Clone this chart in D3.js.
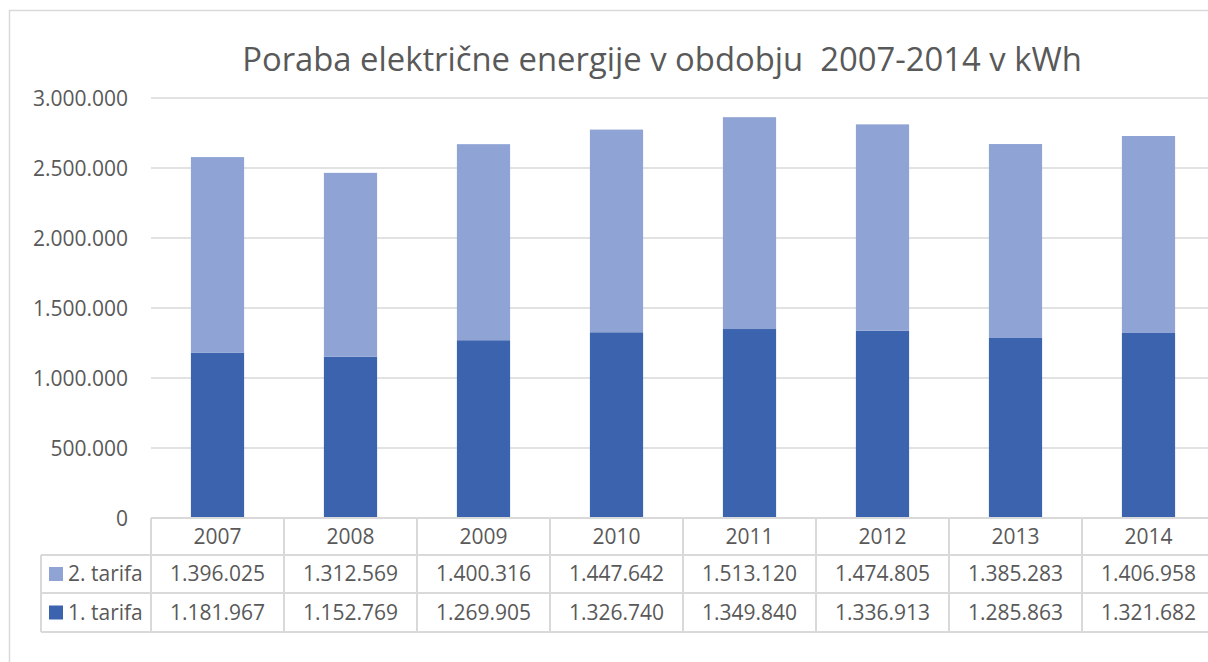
<head>
  <script src="https://d3js.org/d3.v7.min.js"></script>
  <style>
    body { margin: 0px; background: #fff; }
    text { font-family: "Open Sans", "Liberation Sans", sans-serif; fill: #595959; }
    .grid line { stroke: #d9d9d9; stroke-width: 1.5px; }
    .tbl line { stroke: #d9d9d9; stroke-width: 2px; }
  </style>
</head>

<body>
  <svg id="chart" width="1208" height="662"></svg>
</body>

<script>
  // data
  const years = ["2007", "2008", "2009", "2010", "2011", "2012", "2013", "2014"];
  const tarifa1 = [1181967, 1152769, 1269905, 1326740, 1349840, 1336913, 1285863, 1321682];
  const tarifa2 = [1396025, 1312569, 1400316, 1447642, 1513120, 1474805, 1385283, 1406958];
  const seriesNames = ["2. tarifa", "1. tarifa"];
  const yTicks = [0, 500000, 1000000, 1500000, 2000000, 2500000, 3000000];
  const colors = { "1. tarifa": "#3c64ae", "2. tarifa": "#8fa4d5" };

  const svg = d3.select("#chart");
  const locale = d3.formatLocale({ decimal: ",", thousands: ".", grouping: [3], currency: ["", ""] });
  const fmt = locale.format(",d");

  const margin = { top: 98, left: 151 };
  const plotW = 1064, plotH = 420;
  const rowLines = [37, 75, 114]; // row bottoms below the axis

  // outer chart border (cropped on the right/bottom)
  svg.append("rect")
    .attr("x", 9.5).attr("y", 10.5)
    .attr("width", 1300).attr("height", 700)
    .attr("fill", "none").attr("stroke", "#d9d9d9").attr("stroke-width", 1.5);

  svg.append("text")
    .attr("x", 662).attr("y", 71)
    .attr("text-anchor", "middle")
    .style("font-size", "32.8px")
    .style("white-space", "pre")
    .text("Poraba električne energije v obdobju  2007-2014 v kWh");

  const x = d3.scaleBand().domain(years).range([margin.left, margin.left + plotW]).paddingInner(0.6).paddingOuter(0.3);
  const xCell = d3.scaleBand().domain(years).range([margin.left, margin.left + plotW]);
  const y = d3.scaleLinear().domain([0, 3000000]).range([margin.top + plotH, margin.top]);

  // gridlines
  const grid = svg.append("g").attr("class", "grid");
  grid.selectAll("line").data(yTicks.slice(1)).join("line")
    .attr("x1", margin.left).attr("x2", 1210)
    .attr("y1", d => y(d)).attr("y2", d => y(d));

  const textSize = "21px";

  // y axis labels
  const yAxis = d3.axisLeft(y).tickValues(yTicks).tickFormat(d => fmt(d)).tickSize(0).tickPadding(23);
  const yg = svg.append("g").attr("transform", `translate(${margin.left},0)`).call(yAxis);
  yg.select(".domain").remove();
  yg.selectAll("text").attr("fill", null).style("font-size", textSize).attr("dy", "0.35em");

  // stacked bars
  const rows = years.map((yr, i) => ({ year: yr, "1. tarifa": tarifa1[i], "2. tarifa": tarifa2[i] }));
  const stack = d3.stack().keys(["1. tarifa", "2. tarifa"])(rows);
  svg.append("g").selectAll("g").data(stack).join("g")
    .attr("fill", s => colors[s.key])
    .selectAll("rect").data(s => s).join("rect")
    .attr("x", d => x(d.data.year))
    .attr("width", x.bandwidth())
    .attr("y", d => y(d[1]))
    .attr("height", d => y(d[0]) - y(d[1]));

  // data table
  const tbl = svg.append("g").attr("class", "tbl");
  const tableTop = y(0);
  const right = 1210;
  tbl.append("line").attr("x1", margin.left).attr("x2", right).attr("y1", tableTop).attr("y2", tableTop);
  tbl.selectAll("line.h").data(rowLines).join("line").attr("class", "h")
    .attr("x1", 41).attr("x2", right)
    .attr("y1", d => tableTop + d).attr("y2", d => tableTop + d);
  tbl.append("line").attr("x1", 41).attr("x2", 41)
    .attr("y1", tableTop + rowLines[0]).attr("y2", tableTop + rowLines[2]);
  tbl.selectAll("line.v").data(years).join("line").attr("class", "v")
    .attr("x1", d => xCell(d)).attr("x2", d => xCell(d))
    .attr("y1", tableTop).attr("y2", tableTop + rowLines[2]);

  svg.append("g").selectAll("text").data(years).join("text")
    .attr("x", d => xCell(d) + xCell.bandwidth() / 2)
    .attr("y", tableTop + rowLines[0] / 2).attr("dy", "0.35em")
    .attr("text-anchor", "middle").style("font-size", textSize)
    .text(d => d);

  const tableSeries = [tarifa2, tarifa1];
  seriesNames.forEach((name, r) => {
    const cy = tableTop + (rowLines[r] + rowLines[r + 1]) / 2;
    const g = svg.append("g");
    g.append("rect").attr("x", 49).attr("y", cy - 7).attr("width", 14).attr("height", 14).attr("fill", colors[name]);
    g.append("text").attr("x", 68).attr("y", cy).attr("dy", "0.35em")
      .style("font-size", textSize).text(name);
    g.selectAll("text.v").data(tableSeries[r]).join("text").attr("class", "v")
      .attr("x", (d, i) => xCell(years[i]) + xCell.bandwidth() / 2)
      .attr("y", cy).attr("dy", "0.35em")
      .attr("text-anchor", "middle").style("font-size", textSize)
      .text(d => fmt(d));
  });
</script>
